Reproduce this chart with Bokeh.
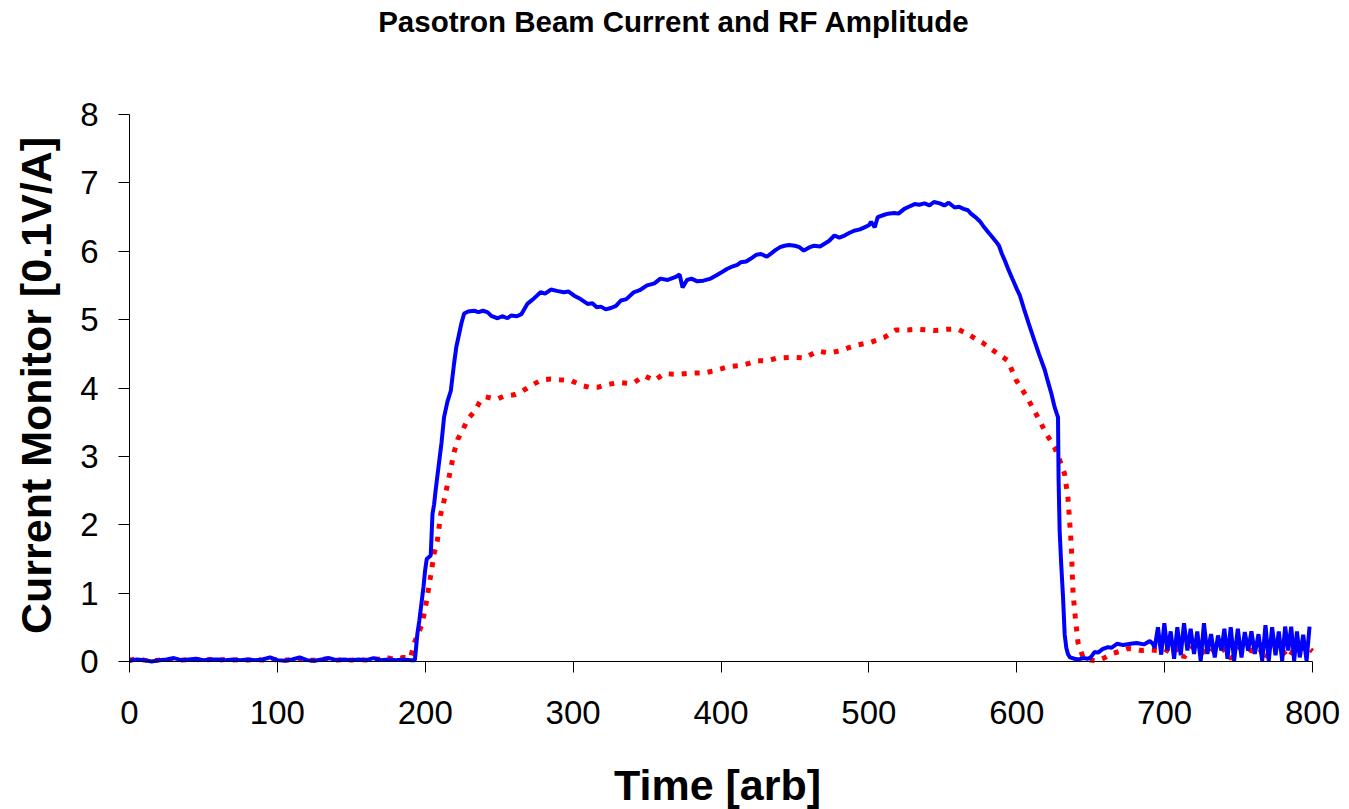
import math
from bokeh.plotting import figure
from bokeh.models import Range1d, Label, FixedTicker
from bokeh.embed import file_html
from bokeh.resources import INLINE

# ---------------- data ----------------
title_text = "Pasotron Beam Current and RF Amplitude"
x_label = "Time [arb]"
y_label = "Current Monitor [0.1V/A]"
x_ticks = [0, 100, 200, 300, 400, 500, 600, 700, 800]
y_ticks = [0, 1, 2, 3, 4, 5, 6, 7, 8]

beam_t = [0, 5, 10, 15, 20, 25, 30, 35, 40, 45, 50, 55, 60, 65, 70, 75, 80, 85, 90, 95,
          100, 105, 110, 115, 120, 125, 130, 135, 140, 145, 150, 155, 160, 165, 170, 175,
          180, 185, 190, 193,
          194.7, 196, 198.8, 199.9, 201, 203.7, 204.9, 206, 207, 209.4, 211, 212.7, 215,
          217.3, 219.5, 221, 222.9, 224.5, 226.3, 229, 233, 236, 239, 242, 245, 248.9, 252,
          255.6, 258, 262, 265, 269, 273, 278, 281, 285, 289, 293.7, 297, 300.7, 305, 309.8,
          313, 316, 318.8, 322, 325.6, 329, 332.3, 336, 341, 345, 350, 355, 359, 364, 369,
          372, 374, 377, 380, 384, 388, 393, 397, 401, 404, 408, 411, 413.5, 417, 420, 424,
          427, 431, 434, 437, 440, 443, 446, 450, 453, 456, 460, 463, 467, 470, 473, 476.7,
          480, 483.5, 487, 490, 494, 497, 500, 501.5, 504, 506, 510, 513, 517, 520, 524, 527,
          531, 534, 537.6, 541, 544, 548, 551, 554, 558, 561, 564, 567, 569, 572, 575, 578,
          581, 583, 586, 588, 590, 592, 594, 596, 598, 600, 602, 605, 608, 612, 615, 619,
          621, 623.4, 625.6, 627.9, 628.3, 629, 630, 631.3, 632.4, 633.5, 634.6, 636, 639,
          642, 645, 648, 650, 652.7, 655, 658, 661.7, 664, 668, 672, 677, 681, 686, 690, 692,
          693.3, 695.5, 697.7, 699.8, 701.9, 704.1, 706.4, 708.6, 710.9, 713.1, 715.4, 717.6,
          719.9, 722.1, 724.4, 726.6, 728.9, 731.4, 733.9, 736.1, 738.4, 740.4, 742.5, 744.7,
          747, 749.5, 752, 754.2, 756.5, 758.7, 761, 763.5, 766, 768.2, 770.4, 772.7, 775,
          777.2, 779.5, 781.5, 783.6, 785.6, 787.6, 789.5, 791.4, 793.7, 796, 798, 800]
beam_v = [0.01, 0.03, 0.02, 0.00, 0.02, 0.03, 0.05, 0.02, 0.03, 0.04, 0.02, 0.03, 0.03, 0.02,
          0.03, 0.02, 0.03, 0.02, 0.03, 0.06, 0.02, 0.01, 0.03, 0.06, 0.02, 0.01, 0.03, 0.05,
          0.02, 0.03, 0.02, 0.03, 0.02, 0.05, 0.02, 0.03, 0.02, 0.03, 0.02, 0.02,
          0.41, 0.60, 1.09, 1.33, 1.50, 1.55, 2.16, 2.30, 2.50, 2.92, 3.20, 3.57, 3.80,
          3.96, 4.36, 4.60, 4.79, 4.95, 5.09, 5.12, 5.13, 5.11, 5.13, 5.11, 5.05, 5.02, 5.05,
          5.02, 5.06, 5.05, 5.08, 5.23, 5.30, 5.40, 5.38, 5.44, 5.42, 5.40, 5.41, 5.35, 5.30,
          5.23, 5.24, 5.18, 5.19, 5.15, 5.17, 5.20, 5.28, 5.30, 5.40, 5.43, 5.50, 5.53, 5.60,
          5.58, 5.62, 5.66, 5.47, 5.58, 5.60, 5.56, 5.57, 5.60, 5.65, 5.70, 5.74, 5.78, 5.80,
          5.84, 5.85, 5.89, 5.95, 5.96, 5.92, 5.97, 6.02, 6.06, 6.08, 6.09, 6.08, 6.06, 6.01,
          6.06, 6.08, 6.07, 6.11, 6.15, 6.23, 6.20, 6.23, 6.27, 6.30, 6.32, 6.35, 6.38, 6.43,
          6.35, 6.50, 6.53, 6.55, 6.56, 6.55, 6.62, 6.65, 6.69, 6.68, 6.70, 6.67, 6.72, 6.70,
          6.67, 6.71, 6.64, 6.65, 6.62, 6.60, 6.55, 6.50, 6.44, 6.35, 6.27, 6.22, 6.14, 6.08,
          5.96, 5.86, 5.75, 5.65, 5.55, 5.45, 5.36, 5.15, 4.95, 4.69, 4.50, 4.26, 4.10, 3.92,
          3.72, 3.57, 2.65, 1.92, 1.45, 0.94, 0.40, 0.20, 0.11, 0.06, 0.04, 0.03, 0.05, 0.04,
          0.06, 0.14, 0.13, 0.18, 0.21, 0.20, 0.26, 0.24, 0.26, 0.27, 0.25, 0.30, 0.26,
          0.20, 0.50, 0.10, 0.56, 0.16, 0.44, 0.04, 0.50, 0.09, 0.56, 0.16, 0.48, 0.11, 0.44,
          0.01, 0.56, 0.11, 0.40, 0.06, 0.38, 0.16, 0.48, 0.04, 0.50, 0.01, 0.48, 0.06, 0.43,
          0.16, 0.44, 0.11, 0.40, 0.01, 0.53, 0.01, 0.50, 0.09, 0.44, 0.01, 0.51, 0.16, 0.51,
          0.01, 0.44, 0.06, 0.39, 0.01, 0.51]

rf_t = [0, 5, 10, 15, 20, 25, 30, 35, 40, 45, 50, 55, 60, 65, 70, 75, 80, 85, 90, 95, 100,
        105, 110, 115, 120, 125, 130, 135, 140, 145, 150, 155, 160, 165, 170, 175, 180, 185,
        190, 192.4, 195, 198, 201, 203.7, 206, 208.2, 210.5, 212.7, 216.1, 219.5, 222, 225.2,
        229, 233, 237, 240.9, 245, 248.9, 253, 256.7, 260, 264.6, 269, 273.6, 279, 285, 291,
        298.5, 305.3, 310.9, 316.6, 321, 325.6, 332.3, 337, 341.3, 348.1, 354.9, 361.6,
        370.6, 380.8, 388.7, 395, 400, 404.5, 413.5, 419, 424.8, 431.6, 438.4, 448.5, 456.4,
        465.4, 473.3, 481.2, 490.3, 501.5, 510.5, 518.4, 526.4, 533.1, 544.4, 553.4, 560.2,
        567, 572, 577.1, 582, 587.3, 594, 599.7, 603, 607.6, 614.3, 620, 625.6, 629, 632.4,
        634.6, 635.8, 637, 637.4, 638.1, 639.6, 641.4, 644.8, 650, 654.9, 659, 664, 670,
        675.2, 680, 684.3, 690, 695.5, 700, 705, 710, 713, 718, 722, 726, 729, 734, 738, 742,
        745, 750, 755, 759, 764, 768, 772, 776, 780, 784, 788, 792, 796, 800]
rf_v = [0.02, 0.04, 0.02, 0.01, 0.02, 0.03, 0.03, 0.02, 0.03, 0.03, 0.02, 0.03, 0.02, 0.03,
        0.02, 0.03, 0.02, 0.03, 0.02, 0.04, 0.02, 0.02, 0.03, 0.04, 0.02, 0.02, 0.03, 0.04,
        0.02, 0.03, 0.02, 0.03, 0.02, 0.04, 0.03, 0.05, 0.03, 0.06, 0.05, 0.26, 0.40, 0.55,
        0.90, 1.26, 1.58, 1.77, 2.16, 2.35, 2.70, 3.06, 3.25, 3.38, 3.55, 3.65, 3.80, 3.87,
        3.85, 3.84, 3.88, 3.89, 3.90, 3.94, 4.00, 4.06, 4.12, 4.13, 4.12, 4.11, 4.04, 4.01,
        4.01, 4.04, 4.06, 4.08, 4.07, 4.08, 4.18, 4.11, 4.21, 4.20, 4.22, 4.22, 4.25, 4.28,
        4.31, 4.33, 4.36, 4.40, 4.40, 4.44, 4.45, 4.44, 4.54, 4.51, 4.55, 4.62, 4.67, 4.74,
        4.85, 4.85, 4.86, 4.84, 4.86, 4.86, 4.79, 4.72, 4.66, 4.58, 4.50, 4.40, 4.11, 4.00,
        3.84, 3.57, 3.33, 3.13, 2.95, 2.74, 2.40, 2.04, 1.67, 1.36, 0.99, 0.65, 0.28, 0.06,
        0.02, 0.01, 0.05, 0.11, 0.15, 0.19, 0.18, 0.16, 0.17, 0.16, 0.18, 0.12, 0.20, 0.06,
        0.20, 0.22, 0.15, 0.09, 0.20, 0.22, 0.12, 0.04, 0.18, 0.22, 0.15, 0.20, 0.03, 0.20,
        0.24, 0.15, 0.05, 0.20, 0.18, 0.22, 0.15]

FONT = "Liberation Sans"

# ---------------- layout ----------------
W, H = 1349, 809
FX0, FX1 = 129, 1312      # pixel columns of x = 0 and x = 800
FY0, FY1 = 661, 114       # pixel rows of y = 0 and y = 8
kx = (FX1 - FX0) / 800.0
ky = (FY0 - FY1) / 8.0

def dx(px):  # canvas pixel column -> data x
    return (px - FX0) / kx

def dy(py):  # canvas pixel row -> data y
    return (FY0 - py) / ky

# the frame covers the whole canvas; the axes are pinned at 0 and bounded
p = figure(frame_width=W, frame_height=H,
           x_range=Range1d(dx(0), dx(W)), y_range=Range1d(dy(H), dy(0)),
           output_backend="svg", toolbar_location=None, min_border=0,
           background_fill_color="white", border_fill_color="white")
p.outline_line_color = None
p.grid.visible = False

p.line(rf_t, rf_v, line_color="#FF0000", line_width=5, line_dash="5 8")
p.line(beam_t, beam_v, line_color="#0000FF", line_width=4)

for ax in (p.xaxis[0], p.yaxis[0]):
    ax.axis_line_color = "black"
    ax.axis_line_width = 1
    ax.major_tick_line_color = "black"
    ax.major_tick_in = 0
    ax.major_tick_out = 11
    ax.minor_tick_line_color = None
    ax.major_label_text_font = FONT
    ax.major_label_text_font_size = "33px"
    ax.major_label_text_color = "black"

p.xaxis.fixed_location = 0
p.yaxis.fixed_location = 0
p.xaxis.bounds = (0, 800)
p.yaxis.bounds = (0, 8)
p.xaxis.ticker = FixedTicker(ticks=x_ticks)
p.yaxis.ticker = FixedTicker(ticks=y_ticks)
p.xaxis.major_label_standoff = 28
p.yaxis.major_label_standoff = 20

title = Label(x=dx(673.5), y=dy(21), text=title_text,
              text_font=FONT, text_font_size="29.5px", text_font_style="bold",
              text_align="center", text_baseline="middle", text_color="black")
xl = Label(x=dx(717), y=dy(784), text=x_label,
           text_font=FONT, text_font_size="43px", text_font_style="bold",
           text_align="center", text_baseline="middle", text_color="black")
yl = Label(x=dx(35.5), y=dy(385), text=y_label, angle=math.pi / 2,
           text_font=FONT, text_font_size="43px", text_font_style="bold",
           text_align="center", text_baseline="middle", text_color="black")
for lab in (title, xl, yl):
    p.add_layout(lab)

open("out.html", "w").write(file_html(p, INLINE))
